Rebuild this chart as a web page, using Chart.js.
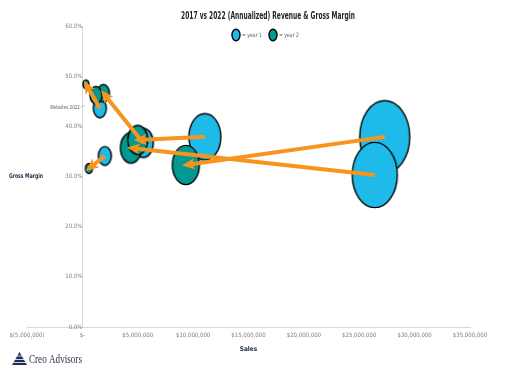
<!DOCTYPE html>
<html><head><meta charset="utf-8">
<script src="https://cdn.jsdelivr.net/npm/chart.js@4.4.0/dist/chart.umd.min.js"></script>
<style>html,body{margin:0;padding:0;background:#fff}</style>
</head><body>
<canvas id="c" width="508" height="368"></canvas>
<script>
const chartTitle = '2017 vs 2022 (Annualized) Revenue & Gross Margin';
const seriesNames = ['= year 1', '= year 2'];
const xAxisTitle = 'Sales';
const yAxisTitle = 'Gross Margin';
const pointLabel = 'Websites 2022';
const brandName = 'Creo Advisors';

// year 1 bubbles (sales $, gross margin %, bubble size)
const year1Sales  = [1580000, 5500000, 11060000, 27300000, 26400000, 2030000];
const year1Margin = [43.6, 36.7, 37.9, 37.9, 30.3, 34.1];
const year1Size   = [6.5, 10, 16, 25, 22.5, 6.5];
// year 2 bubbles
const year2Sales  = [320000, 1900000, 5000000, 9340000, 4380000, 590000, 1220000];
const year2Margin = [48.4, 46.6, 37.3, 32.3, 35.7, 31.6, 46.2];
const year2Size   = [3, 6, 10, 13.5, 10.5, 3.5, 6];
// arrows: year 1 index -> year 2 index
const arrowFrom = [0, 1, 2, 3, 4, 5];
const arrowTo   = [0, 1, 2, 3, 4, 5];

const xTicks = [-5000000, 0, 5000000, 10000000, 15000000, 20000000, 25000000, 30000000, 35000000];
const yTicks = [0, 10, 20, 30, 40, 50, 60];

const BLUE = '#1EBBEA', TEAL = '#009A93', ORANGE = '#F7941D';
const ASPECT = 1.45;
const NARROW = "'Liberation Sans Narrow', 'DejaVu Sans Condensed', 'Arial Narrow', sans-serif";

const cache = {};
function ellipseCanvas(r, fill) {
  const key = r + fill;
  if (cache[key]) return cache[key];
  const c = document.createElement('canvas');
  c.width = Math.ceil(2 * r + 4);
  c.height = Math.ceil(2 * r * ASPECT + 4);
  const g = c.getContext('2d');
  g.beginPath();
  g.ellipse(c.width / 2, c.height / 2, r, r * ASPECT, 0, 0, Math.PI * 2);
  g.fillStyle = fill; g.fill();
  g.lineWidth = 1.4; g.strokeStyle = '#000'; g.stroke();
  cache[key] = c;
  return c;
}

function bubbles(xs, ys, rs) {
  const pts = xs.map((x, i) => ({x: x, y: ys[i], r: rs[i]}));
  return pts.sort((a, b) => b.r - a.r);
}

function fmtMoney(v) {
  if (v === 0) return '$-';
  const s = Math.abs(v).toLocaleString('en-US');
  return v < 0 ? '$(' + s + ')' : '$' + s;
}

const datasets = [];
arrowFrom.forEach((f, k) => {
  const t = arrowTo[k];
  datasets.push({
    type: 'line', isArrow: true, order: 0,
    data: [{x: year1Sales[f], y: year1Margin[f]}, {x: year2Sales[t], y: year2Margin[t]}],
    borderColor: ORANGE, borderWidth: 4, pointRadius: 0, borderCapStyle: 'butt', fill: false
  });
});
datasets.push({
  label: seriesNames[1], order: 1,
  data: bubbles(year2Sales, year2Margin, year2Size),
  backgroundColor: TEAL, borderColor: '#000',
  pointStyle: (ctx) => ctx.raw ? ellipseCanvas(ctx.raw.r, TEAL) : 'circle'
});
datasets.push({
  label: seriesNames[0], order: 2,
  data: bubbles(year1Sales, year1Margin, year1Size),
  backgroundColor: BLUE, borderColor: '#000',
  pointStyle: (ctx) => ctx.raw ? ellipseCanvas(ctx.raw.r, BLUE) : 'circle'
});

const arrowHeads = {
  id: 'arrowHeads',
  afterDatasetsDraw(chart) {
    const ctx = chart.ctx;
    chart.data.datasets.forEach((ds, i) => {
      if (!ds.isArrow) return;
      const pts = chart.getDatasetMeta(i).data;
      const a = pts[0], b = pts[1];
      const ang = Math.atan2(b.y - a.y, b.x - a.x);
      ctx.save();
      ctx.translate(b.x, b.y); ctx.rotate(ang);
      ctx.beginPath();
      ctx.moveTo(4, 0); ctx.lineTo(-9, -5.5); ctx.lineTo(-6, 0); ctx.lineTo(-9, 5.5); ctx.closePath();
      ctx.fillStyle = ORANGE; ctx.fill();
      ctx.restore();
    });
  }
};

function squeezedText(ctx, text, x, y, font, color, sx, align) {
  ctx.save();
  ctx.translate(x, y); ctx.scale(sx, 1);
  ctx.font = font; ctx.fillStyle = color; ctx.textAlign = align || 'center'; ctx.textBaseline = 'middle';
  ctx.fillText(text, 0, 0);
  ctx.restore();
}

const extras = {
  id: 'extras',
  afterDraw(chart) {
    const ctx = chart.ctx, area = chart.chartArea;
    ctx.save();
    // title
    squeezedText(ctx, chartTitle, 268, 16, 'bold 10px ' + NARROW, '#262626', 0.66);
    // legend
    const ly = 35;
    const items = [{c: BLUE, x: 236, t: seriesNames[0]}, {c: TEAL, x: 273, t: seriesNames[1]}];
    items.forEach(it => {
      const e = ellipseCanvas(4, it.c);
      ctx.drawImage(e, it.x - e.width / 2, ly - e.height / 2);
      squeezedText(ctx, it.t, it.x + 6, ly, '6px ' + NARROW, '#595959', 0.85, 'left');
    });
    // y axis title
    squeezedText(ctx, yAxisTitle, 26, (area.top + area.bottom) / 2, 'bold 6.5px ' + NARROW, '#1F2A44', 0.78);
    // point label
    const meta = chart.getDatasetMeta(chart.data.datasets.length - 1);
    const target = meta.data.find(el => el.$context && el.$context.raw && el.$context.raw.x === year1Sales[0]);
    if (target) {
      squeezedText(ctx, pointLabel, target.x - 20, target.y - 1, '5.5px ' + NARROW, '#595959', 0.82, 'right');
      ctx.strokeStyle = '#A6A6A6'; ctx.lineWidth = 0.7;
      ctx.beginPath(); ctx.moveTo(target.x - 19, target.y - 1); ctx.lineTo(target.x - 15, target.y - 3); ctx.stroke();
    }
    // brand logo
    ctx.fillStyle = '#1F2F57';
    ctx.beginPath(); ctx.moveTo(12, 365); ctx.lineTo(27, 365); ctx.lineTo(19.5, 352); ctx.closePath(); ctx.fill();
    ctx.strokeStyle = '#fff'; ctx.lineWidth = 0.8;
    [356, 359.5, 362.5].forEach(yy => { ctx.beginPath(); ctx.moveTo(10, yy); ctx.lineTo(29, yy); ctx.stroke(); });
    ctx.translate(29, 360); ctx.scale(0.76, 1);
    ctx.font = "12px 'Liberation Serif', 'DejaVu Serif', serif"; ctx.fillStyle = '#2B3245'; ctx.textAlign = 'left';
    ctx.textBaseline = 'middle';
    ctx.fillText(brandName, 0, 0);
    ctx.restore();
  }
};

new Chart(document.getElementById('c'), {
  type: 'bubble',
  data: {datasets: datasets},
  plugins: [arrowHeads, extras],
  options: {
    responsive: false, animation: false,
    layout: {padding: {left: 27, right: 38, top: 26, bottom: 15}},
    plugins: {
      legend: {display: false},
      tooltip: {enabled: false},
      title: {display: false}
    },
    scales: {
      x: {
        type: 'linear', min: -5000000, max: 35000000,
        afterBuildTicks: (s) => { s.ticks = xTicks.map(v => ({value: v})); },
        grid: {display: false, drawTicks: false},
        border: {display: true, color: '#D9D9D9', width: 1},
        ticks: {callback: fmtMoney, color: '#7F7F7F', font: {family: NARROW, size: 6}, padding: 5, maxRotation: 0, autoSkip: false},
        title: {display: true, text: xAxisTitle, color: '#1F2A44', font: {family: NARROW, size: 6.5, weight: 'bold'}, padding: {top: 1, bottom: 0}}
      },
      y: {
        type: 'linear', min: 0, max: 60, position: {x: 0},
        afterBuildTicks: (s) => { s.ticks = yTicks.map(v => ({value: v})); },
        grid: {display: false, drawTicks: false},
        border: {display: true, color: '#D9D9D9', width: 1},
        ticks: {callback: (v) => v.toFixed(1) + '%', color: '#7F7F7F', font: {family: NARROW, size: 6}, padding: 4}
      }
    }
  }
});
</script>
</body></html>
